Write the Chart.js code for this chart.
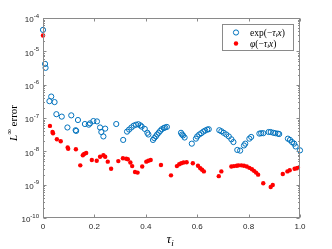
<!DOCTYPE html>
<html>
<head>
<meta charset="utf-8">
<script src="https://cdn.jsdelivr.net/npm/chart.js@4.4.1/dist/chart.umd.min.js"></script>
<style>
  html, body { margin: 0; padding: 0; background: #fff; }
  canvas { display: block; }
</style>
</head>
<body>
<canvas id="grafico" width="332" height="249" style="width:332px;height:249px"></canvas>
<script>
// datos
const tauExp = [0, 0.008, 0.01, 0.025, 0.032, 0.045, 0.052, 0.073, 0.095, 0.11, 0.127, 0.129, 0.136,
  0.163, 0.178, 0.183, 0.196, 0.21, 0.222, 0.227, 0.235, 0.242, 0.285, 0.312,
  0.327, 0.335, 0.344, 0.353, 0.362, 0.371, 0.379, 0.384, 0.396, 0.406, 0.41,
  0.428, 0.433, 0.439, 0.444, 0.45, 0.456, 0.462, 0.47, 0.475, 0.482,
  0.537, 0.541, 0.545, 0.551, 0.579,
  0.595, 0.6, 0.608, 0.616, 0.624, 0.631, 0.639, 0.645,
  0.686, 0.694, 0.703, 0.713, 0.723, 0.733, 0.741, 0.756, 0.767,
  0.782, 0.787, 0.803, 0.81,
  0.842, 0.849, 0.857, 0.878, 0.886, 0.896, 0.904, 0.914, 0.919,
  0.953, 0.961, 0.969, 0.977, 0.983, 1.0];
const errExp = [4.4e-5, 4.2e-6, 3.2e-6, 3.2e-7, 4.4e-7, 3.0e-7, 1.3e-7, 1.1e-7, 5.2e-8, 1.2e-7, 4.3e-8, 4.1e-8, 8.7e-8,
  6.6e-8, 6.3e-8, 6.9e-8, 8.1e-8, 7.9e-8, 5.2e-8, 3.8e-8, 2.8e-8, 4.8e-8, 6.6e-8, 2.2e-8,
  3.9e-8, 4.5e-8, 5.2e-8, 5.9e-8, 6.3e-8, 6.5e-8, 6.0e-8, 5.5e-8, 4.7e-8, 3.6e-8, 3.2e-8,
  2.2e-8, 2.5e-8, 2.8e-8, 3.2e-8, 3.6e-8, 4.1e-8, 4.6e-8, 5.0e-8, 5.2e-8, 5.4e-8,
  3.6e-8, 3.2e-8, 3.0e-8, 2.6e-8, 1.7e-8,
  2.4e-8, 2.8e-8, 3.2e-8, 3.5e-8, 3.9e-8, 4.2e-8, 4.5e-8, 4.6e-8,
  4.3e-8, 4.0e-8, 3.6e-8, 3.2e-8, 2.8e-8, 2.3e-8, 1.9e-8, 1.1e-8, 1.05e-8,
  1.5e-8, 1.7e-8, 2.4e-8, 2.7e-8,
  3.4e-8, 3.5e-8, 3.5e-8, 3.8e-8, 3.8e-8, 3.6e-8, 3.5e-8, 3.4e-8, 3.3e-8,
  2.4e-8, 2.2e-8, 1.9e-8, 1.7e-8, 1.4e-8, 1.07e-8];

const tauPhi = [0, 0.027, 0.037, 0.039, 0.054, 0.069, 0.096, 0.098, 0.128, 0.145,
  0.155, 0.16, 0.168, 0.19, 0.209, 0.222, 0.235, 0.242, 0.252, 0.265, 0.293,
  0.311, 0.324, 0.33, 0.34, 0.347, 0.358, 0.368, 0.386, 0.402, 0.41, 0.419, 0.459, 0.498,
  0.521, 0.53, 0.538, 0.547, 0.559, 0.583, 0.603, 0.612, 0.619, 0.626, 0.684, 0.694,
  0.733, 0.743, 0.754, 0.761, 0.772, 0.782, 0.793, 0.803, 0.813, 0.821, 0.829, 0.837,
  0.857, 0.886, 0.894, 0.933, 0.951, 0.96, 0.979, 0.988, 0.992];
const errPhi = [3.0e-5, 5.8e-8, 3.8e-8, 3.5e-8, 2.3e-8, 2.0e-8, 1.3e-8, 1.2e-8, 1.15e-8, 3.8e-9,
  7.6e-9, 8.3e-9, 8.9e-9, 5.5e-9, 5.2e-9, 6.9e-9, 7.6e-9, 6.9e-9, 4.9e-9, 3.0e-9, 5.1e-9,
  6.2e-9, 6.0e-9, 5.8e-9, 4.6e-9, 3.6e-9, 2.4e-9, 2.3e-9, 3.5e-9, 4.9e-9, 5.2e-9, 5.5e-9, 3.9e-9, 1.9e-9,
  3.6e-9, 4.1e-9, 4.4e-9, 4.6e-9, 4.7e-9, 4.4e-9, 3.7e-9, 3.1e-9, 2.8e-9, 2.5e-9, 1.8e-9, 2.5e-9,
  3.5e-9, 3.6e-9, 3.7e-9, 3.8e-9, 3.8e-9, 3.7e-9, 3.5e-9, 3.2e-9, 2.9e-9, 2.6e-9, 2.3e-9, 2.0e-9,
  1.1e-9, 8.5e-10, 9.8e-10, 2.1e-9, 2.5e-9, 2.7e-9, 3.0e-9, 3.1e-9, 3.2e-9];

const xTicks = [0, 0.2, 0.4, 0.6, 0.8, 1];
const yTicks = [1e-10, 1e-9, 1e-8, 1e-7, 1e-6, 1e-5, 1e-4];
const yTickExp = ['-10', '-9', '-8', '-7', '-6', '-5', '-4'];

const AZUL = '#0072BD';
const ROJO = '#FF0000';
const EJE = '#8a8a8a';

function puntos(xs, ys) {
  return xs.map((x, i) => ({ x: x, y: ys[i] }));
}

// dibuja texto por partes (normal / cursiva / subindice)
function textoMixto(ctx, partes, x, y, size) {
  let cx = x;
  partes.forEach((p) => {
    let s = p.sub ? size * 0.7 : size;
    ctx.font = (p.it ? 'italic ' : '') + s + 'px "Liberation Serif", serif';
    ctx.fillText(p.t, cx, y + (p.sub ? size * 0.25 : 0));
    cx += ctx.measureText(p.t).width;
  });
}

// CAJA, MARCAS HACIA DENTRO, ETIQUETAS Y LEYENDA
const cajaEjes = {
  id: 'cajaEjes',
  afterDraw(chart) {
    const ctx = chart.ctx;
    const a = chart.chartArea;
    const sx = chart.scales.x;
    const sy = chart.scales.y;
    const L = Math.round(a.left) + 0.5, R = Math.round(a.right) - 0.5;
    const T = Math.round(a.top) + 0.5, B = Math.round(a.bottom) - 0.5;
    ctx.save();
    ctx.strokeStyle = EJE;
    ctx.lineWidth = 1;
    ctx.strokeRect(L, T, R - L, B - T);

    ctx.beginPath();
    xTicks.forEach((v) => {
      let px = Math.round(sx.getPixelForValue(v)) + 0.5;
      ctx.moveTo(px, B); ctx.lineTo(px, B - 3);
      ctx.moveTo(px, T); ctx.lineTo(px, T + 3);
    });
    for (let e = -10; e < -4; e++) {
      for (let m = 1; m < 10; m++) {
        let py = Math.round(sy.getPixelForValue(m * Math.pow(10, e))) + 0.5;
        let len = m === 1 ? 3 : 1.5;
        ctx.moveTo(L, py); ctx.lineTo(L + len, py);
        ctx.moveTo(R, py); ctx.lineTo(R - len, py);
      }
    }
    ctx.stroke();

    // etiquetas eje y con exponente
    ctx.fillStyle = '#262626';
    ctx.textBaseline = 'middle';
    ctx.textAlign = 'right';
    yTicks.forEach((v, i) => {
      let py = sy.getPixelForValue(v);
      ctx.font = '6px "Liberation Sans", sans-serif';
      let w = ctx.measureText(yTickExp[i]).width;
      ctx.fillText(yTickExp[i], 39, py - 2);
      ctx.font = '8px "Liberation Sans", sans-serif';
      ctx.fillText('10', 39 - w, py + 2);
    });

    // titulos de ejes
    ctx.fillStyle = '#000';
    ctx.textAlign = 'left';
    ctx.textBaseline = 'alphabetic';
    ctx.save();
    ctx.translate(17, 123);
    ctx.rotate(-Math.PI / 2);
    ctx.font = 'italic 11px "Liberation Serif", serif';
    let wL = ctx.measureText('L').width;
    ctx.font = '8px "Liberation Serif", serif';
    let wInf = ctx.measureText('\u221E').width;
    ctx.font = '11px "Liberation Serif", serif';
    let wErr = ctx.measureText(' error').width;
    let x0 = -(wL + wInf + wErr) / 2;
    ctx.font = 'italic 11px "Liberation Serif", serif';
    ctx.fillText('L', x0, 0);
    ctx.font = '8px "Liberation Serif", serif';
    ctx.fillText('\u221E', x0 + wL, -5);
    ctx.font = '11px "Liberation Serif", serif';
    ctx.fillText(' error', x0 + wL + wInf, 0);
    ctx.restore();

    let cxm = (a.left + a.right) / 2;
    textoMixto(ctx, [{ t: '\u03C4', it: true }, { t: 'i', it: true, sub: true }], cxm - 5, 243, 13);

    // leyenda
    ctx.fillStyle = '#fff';
    ctx.fillRect(222.5, 24.5, 71, 26);
    ctx.strokeStyle = EJE;
    ctx.strokeRect(222.5, 24.5, 71, 26);
    ctx.beginPath();
    ctx.arc(236, 32.5, 2.6, 0, Math.PI * 2);
    ctx.strokeStyle = AZUL;
    ctx.stroke();
    ctx.beginPath();
    ctx.arc(236, 43.5, 2.2, 0, Math.PI * 2);
    ctx.fillStyle = ROJO;
    ctx.fill();
    ctx.fillStyle = '#000';
    ctx.textBaseline = 'middle';
    textoMixto(ctx, [{ t: 'exp(\u2212' }, { t: '\u03C4', it: true }, { t: 'i', it: true, sub: true }, { t: 'x', it: true }, { t: ')' }], 250, 33, 9.5);
    textoMixto(ctx, [{ t: '\u03C6', it: true }, { t: '(\u2212' }, { t: '\u03C4', it: true }, { t: 'i', it: true, sub: true }, { t: 'x', it: true }, { t: ')' }], 250, 44, 9.5);
    ctx.restore();
  },
};

const ctx = document.getElementById('grafico');

new Chart(ctx, {
  type: 'scatter',
  data: {
    datasets: [
      {
        label: 'exp(-tau_i x)',
        data: puntos(tauExp, errExp),
        pointRadius: 2.6,
        borderWidth: 1,
        borderColor: AZUL,
        backgroundColor: 'rgba(0,0,0,0)',
        clip: false,
      },
      {
        label: 'phi(-tau_i x)',
        data: puntos(tauPhi, errPhi),
        pointRadius: 2.2,
        borderWidth: 0,
        borderColor: ROJO,
        backgroundColor: ROJO,
        clip: false,
      },
    ],
  },
  options: {
    responsive: false,
    animation: false,
    layout: { padding: { top: 18, right: 32, left: 0, bottom: 0 } },
    plugins: { legend: { display: false }, tooltip: { enabled: false } },
    scales: {
      x: {
        type: 'linear',
        min: 0,
        max: 1,
        afterBuildTicks: (s) => { s.ticks = xTicks.map((v) => ({ value: v })); },
        afterFit: (s) => { s.height = 31; },
        ticks: {
          color: '#262626',
          padding: 4,
          font: { size: 8, family: '"Liberation Sans", sans-serif' },
          maxRotation: 0,
        },
        grid: { display: false, drawTicks: false },
        border: { display: false },
      },
      y: {
        type: 'logarithmic',
        min: 1e-10,
        max: 1e-4,
        afterBuildTicks: (s) => { s.ticks = yTicks.map((v) => ({ value: v })); },
        afterFit: (s) => { s.width = 43; },
        ticks: { display: false },
        grid: { display: false, drawTicks: false },
        border: { display: false },
      },
    },
  },
  plugins: [cajaEjes],
});
</script>
</body>
</html>
